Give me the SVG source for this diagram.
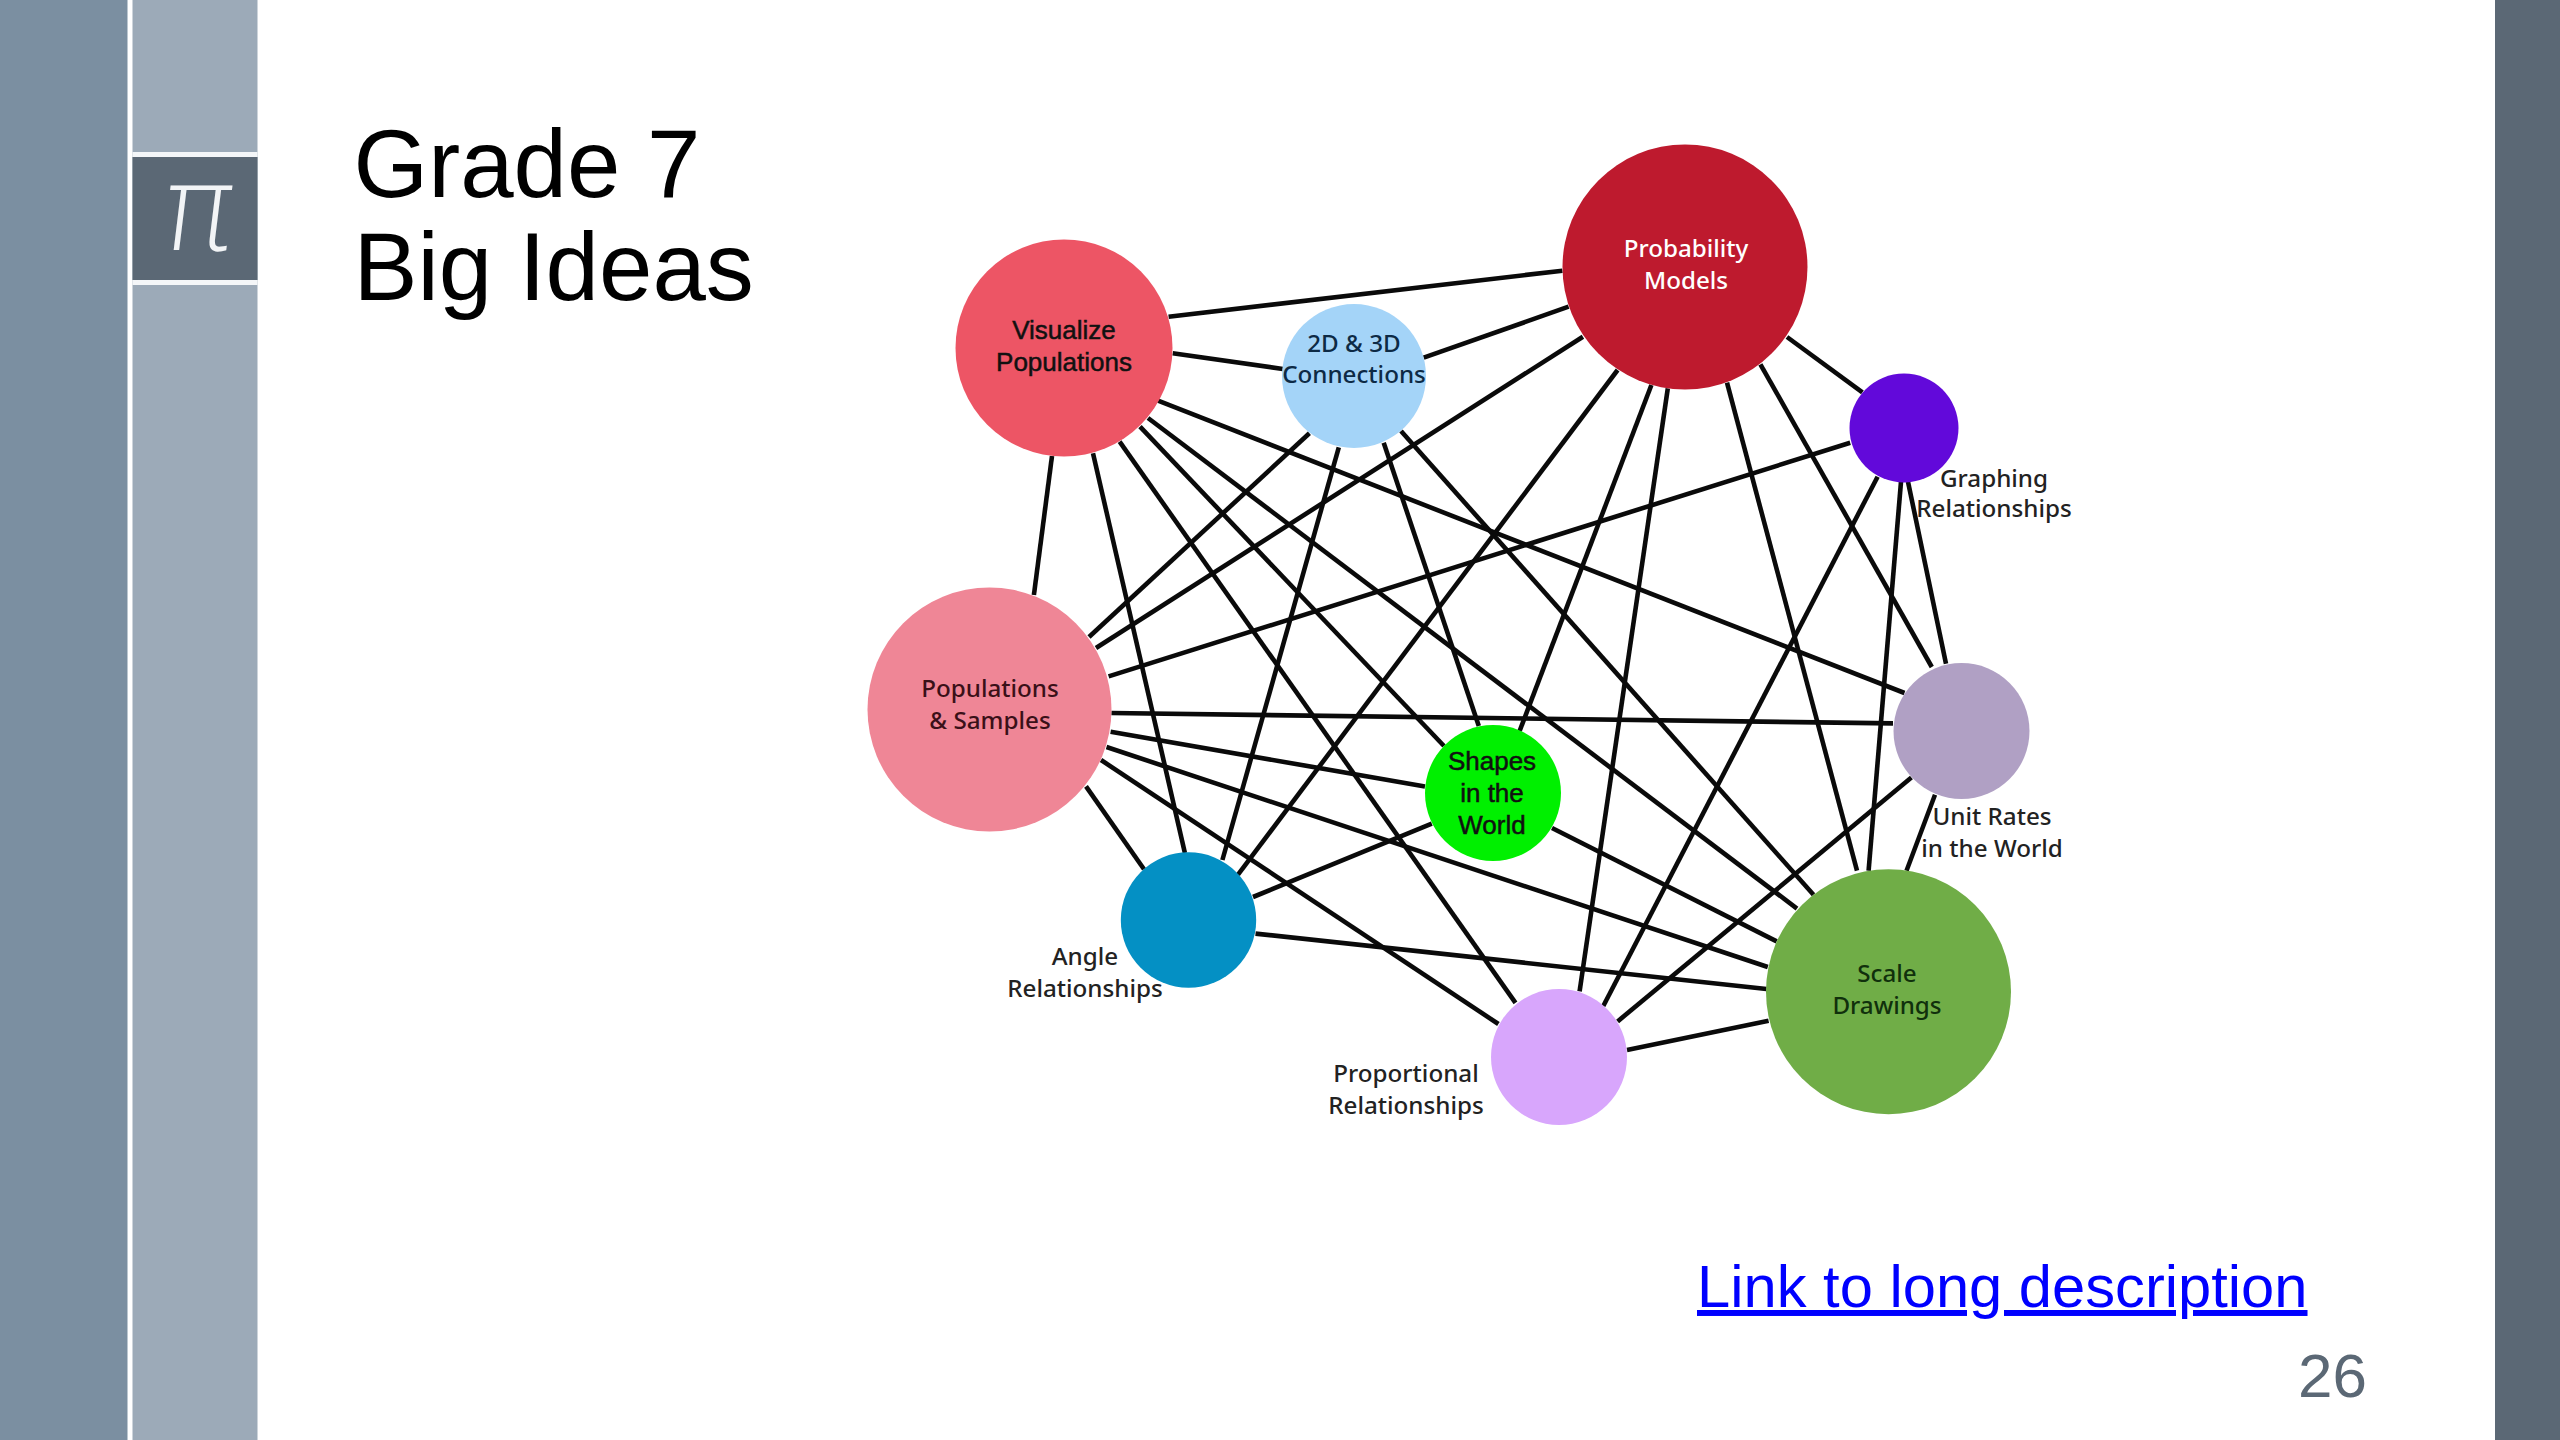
<svg xmlns="http://www.w3.org/2000/svg" width="2560" height="1440" viewBox="0 0 2560 1440">
<style>
.e{stroke:#0a0a0a;stroke-width:4.6;fill:none}
.l{font-family:"Noto Sans","Open Sans",sans-serif;font-size:24.2px;font-weight:500;text-anchor:middle;fill:#222}
.a{font-family:"Liberation Sans",Arial,sans-serif;font-size:26px;text-anchor:middle;fill:#111;stroke:#111;stroke-width:.5}
.t{font-family:"Liberation Sans",Arial,sans-serif}
</style>
<rect width="2560" height="1440" fill="#fff"/>
<g id="frame">
<rect x="0" y="0" width="127.5" height="1440" fill="#7b8fa1"/>
<rect x="132.5" y="0" width="125" height="1440" fill="#9caab8"/>
<rect x="132.5" y="152" width="125" height="5" fill="#f4f6f8"/>
<rect x="132.5" y="157" width="125" height="123" fill="#5b6875"/>
<rect x="132.5" y="280" width="125" height="5" fill="#f4f6f8"/>
<rect x="2495" y="0" width="65" height="1440" fill="#5b6875"/>
<text id="pi" transform="translate(194 250) skewX(-7)" x="0" y="0" font-family="DejaVu Sans,sans-serif" font-weight="200" font-size="118" text-anchor="middle" fill="#f2f4f6">π</text>
</g>
<g id="title" class="t" font-size="96" fill="#000">
<text x="353.5" y="197">Grade 7</text>
<text x="353.5" y="300">Big Ideas</text>
</g>
<g id="connectors" class="e">
<line x1="1168.6" y1="316.7" x2="1562.4" y2="270.7"/>
<line x1="1172.7" y1="353.3" x2="1282.9" y2="369"/>
<line x1="1052" y1="456" x2="1033.9" y2="595"/>
<line x1="1093" y1="453.3" x2="1184.9" y2="853"/>
<line x1="1119.6" y1="441.7" x2="1515.5" y2="1002.8"/>
<line x1="1140" y1="426.7" x2="1444" y2="746"/>
<line x1="1148" y1="418" x2="1797" y2="908.6"/>
<line x1="1158" y1="400.7" x2="1904.5" y2="693"/>
<line x1="1423.7" y1="357.7" x2="1568.6" y2="306.7"/>
<line x1="1309.4" y1="433.3" x2="1089" y2="637"/>
<line x1="1338.8" y1="447.3" x2="1222.4" y2="860"/>
<line x1="1383.7" y1="442.7" x2="1478.8" y2="725.9"/>
<line x1="1401" y1="431" x2="1813.5" y2="894.8"/>
<line x1="1582.9" y1="336.7" x2="1096" y2="648"/>
<line x1="1617.6" y1="370" x2="1238" y2="874.6"/>
<line x1="1651.4" y1="385" x2="1519.6" y2="731"/>
<line x1="1667.8" y1="388.3" x2="1579.6" y2="991.4"/>
<line x1="1727" y1="382.7" x2="1857" y2="870.7"/>
<line x1="1760.4" y1="364.3" x2="1931.8" y2="667"/>
<line x1="1787" y1="337" x2="1862.4" y2="392.3"/>
<line x1="1850.2" y1="442.7" x2="1108.6" y2="676.4"/>
<line x1="1877.6" y1="476.7" x2="1603.3" y2="1006"/>
<line x1="1901" y1="481.7" x2="1868.6" y2="870.7"/>
<line x1="1908" y1="481.7" x2="1946" y2="663.8"/>
<line x1="1893" y1="723.4" x2="1111.4" y2="713"/>
<line x1="1911.4" y1="777.6" x2="1617.6" y2="1021.4"/>
<line x1="1935" y1="794.8" x2="1906.5" y2="870.7"/>
<line x1="1425" y1="786.4" x2="1110.6" y2="731.8"/>
<line x1="1431.8" y1="823.6" x2="1253" y2="897"/>
<line x1="1552" y1="828" x2="1776.7" y2="941.4"/>
<line x1="1767.8" y1="967" x2="1106.5" y2="747"/>
<line x1="1766.5" y1="989" x2="1255.5" y2="933.6"/>
<line x1="1768.6" y1="1020.7" x2="1627" y2="1050"/>
<line x1="1498.4" y1="1024" x2="1101" y2="760"/>
<line x1="1086" y1="786.4" x2="1144" y2="869.3"/>
</g>
<g id="visualize-populations"><circle cx="1064" cy="348" r="108.5" fill="#ed5565"/><text class="a" x="1064" y="339">Visualize</text><text class="a" x="1064" y="371">Populations</text></g>
<g id="connections-2d-3d"><circle cx="1354" cy="376" r="72" fill="#a4d4f8"/><text class="l" x="1354" y="352" style="fill:#0d2a45">2D &amp; 3D</text><text class="l" x="1354" y="383" style="fill:#0d2a45">Connections</text></g>
<g id="probability-models"><circle cx="1685" cy="267" r="122.5" fill="#be1a2e"/><text class="l" x="1686" y="257" style="fill:#fff">Probability</text><text class="l" x="1686" y="289" style="fill:#fff">Models</text></g>
<g id="graphing-relationships"><circle cx="1904" cy="428" r="54.5" fill="#6209da"/><text class="l" x="1994" y="487">Graphing</text><text class="l" x="1994" y="517">Relationships</text></g>
<g id="populations-samples"><circle cx="989.5" cy="709.5" r="122" fill="#ef8696"/><text class="l" x="990" y="697" style="fill:#3a1018">Populations</text><text class="l" x="990" y="729" style="fill:#3a1018">&amp; Samples</text></g>
<g id="unit-rates"><circle cx="1961.5" cy="731" r="68" fill="#b0a0c4"/><text class="l" x="1992" y="825">Unit Rates</text><text class="l" x="1992" y="857">in the World</text></g>
<g id="shapes-world"><circle cx="1493" cy="793" r="68" fill="#00f000"/><text class="a" x="1492" y="770">Shapes</text><text class="a" x="1492" y="802">in the</text><text class="a" x="1492" y="834">World</text></g>
<g id="angle-relationships"><circle cx="1188.5" cy="920" r="67.7" fill="#0490c4"/><text class="l" x="1085" y="965">Angle</text><text class="l" x="1085" y="997">Relationships</text></g>
<g id="scale-drawings"><circle cx="1888.5" cy="991.7" r="122.5" fill="#70ad47"/><text class="l" x="1887" y="982" style="fill:#10300c">Scale</text><text class="l" x="1887" y="1014" style="fill:#10300c">Drawings</text></g>
<g id="proportional-relationships"><circle cx="1559" cy="1057" r="68" fill="#d8a6fc"/><text class="l" x="1406" y="1082">Proportional</text><text class="l" x="1406" y="1114">Relationships</text></g>
<g id="footer" class="t">
<text x="1697" y="1307" font-size="59.7" fill="#0000ff" text-decoration="underline">Link to long description</text>
<text x="2298" y="1397" font-size="62" fill="#5b6875">26</text>
</g>
</svg>
